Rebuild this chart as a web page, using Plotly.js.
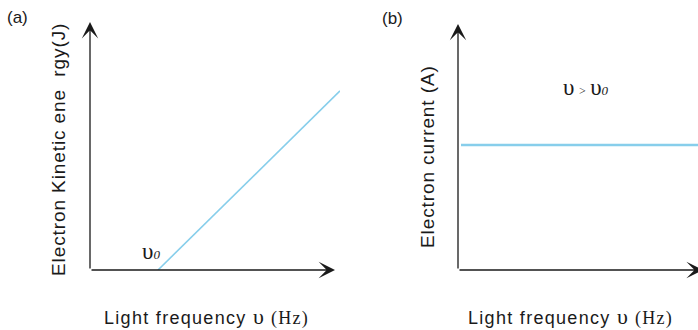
<!DOCTYPE html>
<html>
<head>
<meta charset="utf-8">
<script src="https://cdn.plot.ly/plotly-3.0.1.min.js"></script>
<style>html,body{margin:0;padding:0;background:#fff;}#chart{width:698px;height:330px;}</style>
</head>
<body>
<div id="chart"></div>
<script>
// Panel (a): kinetic energy vs light frequency
var kinFreq = [2.72, 10];
var kinEnergy = [0, 7.22];
// Panel (b): electron current vs light frequency
var curFreq = [0.125, 10];
var curValue = [5.04, 5.04];

var panelLabels = ["(a)", "(b)"];
var xTitle = "Light frequency ";
var yTitleA = "Electron Kinetic ene\u00A0 rgy(J)";
var yTitleB = "Electron current (A)";

var W = 698, H = 330;
var axisColor = "#1a1a1a";
var lineColor = "#87ceeb";
var sans = "Liberation Sans, Arial, sans-serif";
var serif = "Liberation Serif, Times New Roman, serif";
var ls = "letter-spacing:0.9px";
var lsx = "letter-spacing:1.3px";

function px(x){return x / W;}
function py(y){return 1 - y / H;}

var traces = [
  {x: kinFreq, y: kinEnergy, xaxis: "x", yaxis: "y", mode: "lines", line: {color: lineColor, width: 1.6}, hoverinfo: "skip", showlegend: false},
  {x: curFreq, y: curValue, xaxis: "x2", yaxis: "y2", mode: "lines", line: {color: lineColor, width: 2.4}, hoverinfo: "skip", showlegend: false}
];

var hidden = {showgrid: false, zeroline: false, showline: false, showticklabels: false, ticks: "", fixedrange: true};

function arrow(xr, yr, x, y, ax, ay){
  return {xref: xr, yref: yr, axref: xr, ayref: yr, x: x, y: y, ax: ax, ay: ay, text: "", showarrow: true,
          arrowhead: 3, arrowsize: 2.1, arrowwidth: 1.3, arrowcolor: axisColor, standoff: 0, startstandoff: 0};
}

function txt(x, y, t, size, fam, angle){
  return {xref: "paper", yref: "paper", x: px(x), y: py(y), xanchor: "center", yanchor: "middle",
          text: t, showarrow: false, textangle: angle || 0, font: {family: fam || sans, size: size, color: axisColor}};
}

function ups(sz){ return "<span style='font-size:" + sz + "px'>\u03C5</span>"; }
function nu0(sz){ return ups(sz) + "<span style='font-size:13px'><i>0</i></span>"; }
var xTitleFull = "<span style='" + lsx + "'>" + xTitle + "</span><span style='font-family:" + serif + ";" + lsx + "'>" + ups(22) + " (Hz)</span>";

var annotations = [
  arrow("x", "y", 9.8, 0, 0, 0),
  arrow("x", "y", 0, 10, 0, 0),
  arrow("x2", "y2", 10.2, 0, 0, 0),
  arrow("x2", "y2", 0, 9.92, 0, 0),
  txt(17.5, 17.5, panelLabels[0], 17),
  txt(392, 18.5, panelLabels[1], 17),
  txt(151, 251, nu0(23), 18, serif),
  txt(586, 87, ups(23) + " <span style='font-size:12px'>&gt;</span> " + nu0(23), 18, serif),
  txt(206, 316, xTitleFull, 18),
  txt(570, 316, xTitleFull, 18),
  txt(58, 150, "<span style='" + ls + "'>" + yTitleA + "</span>", 19, sans, -90),
  txt(427, 157, "<span style='" + ls + "'>" + yTitleB + "</span>", 19, sans, -90)
];

var layout = {
  width: W, height: H,
  margin: {l: 0, r: 0, t: 0, b: 0},
  paper_bgcolor: "#fff", plot_bgcolor: "rgba(0,0,0,0)",
  showlegend: false,
  xaxis: Object.assign({domain: [px(90), px(340)], range: [0, 10], anchor: "y"}, hidden),
  yaxis: Object.assign({domain: [60 / H, 308 / H], range: [0, 10], anchor: "x"}, hidden),
  xaxis2: Object.assign({domain: [px(458), 1], range: [0, 10], anchor: "y2"}, hidden),
  yaxis2: Object.assign({domain: [60 / H, 308 / H], range: [0, 10], anchor: "x2"}, hidden),
  annotations: annotations
};

Plotly.newPlot("chart", traces, layout, {staticPlot: true, displayModeBar: false});
</script>
</body>
</html>
